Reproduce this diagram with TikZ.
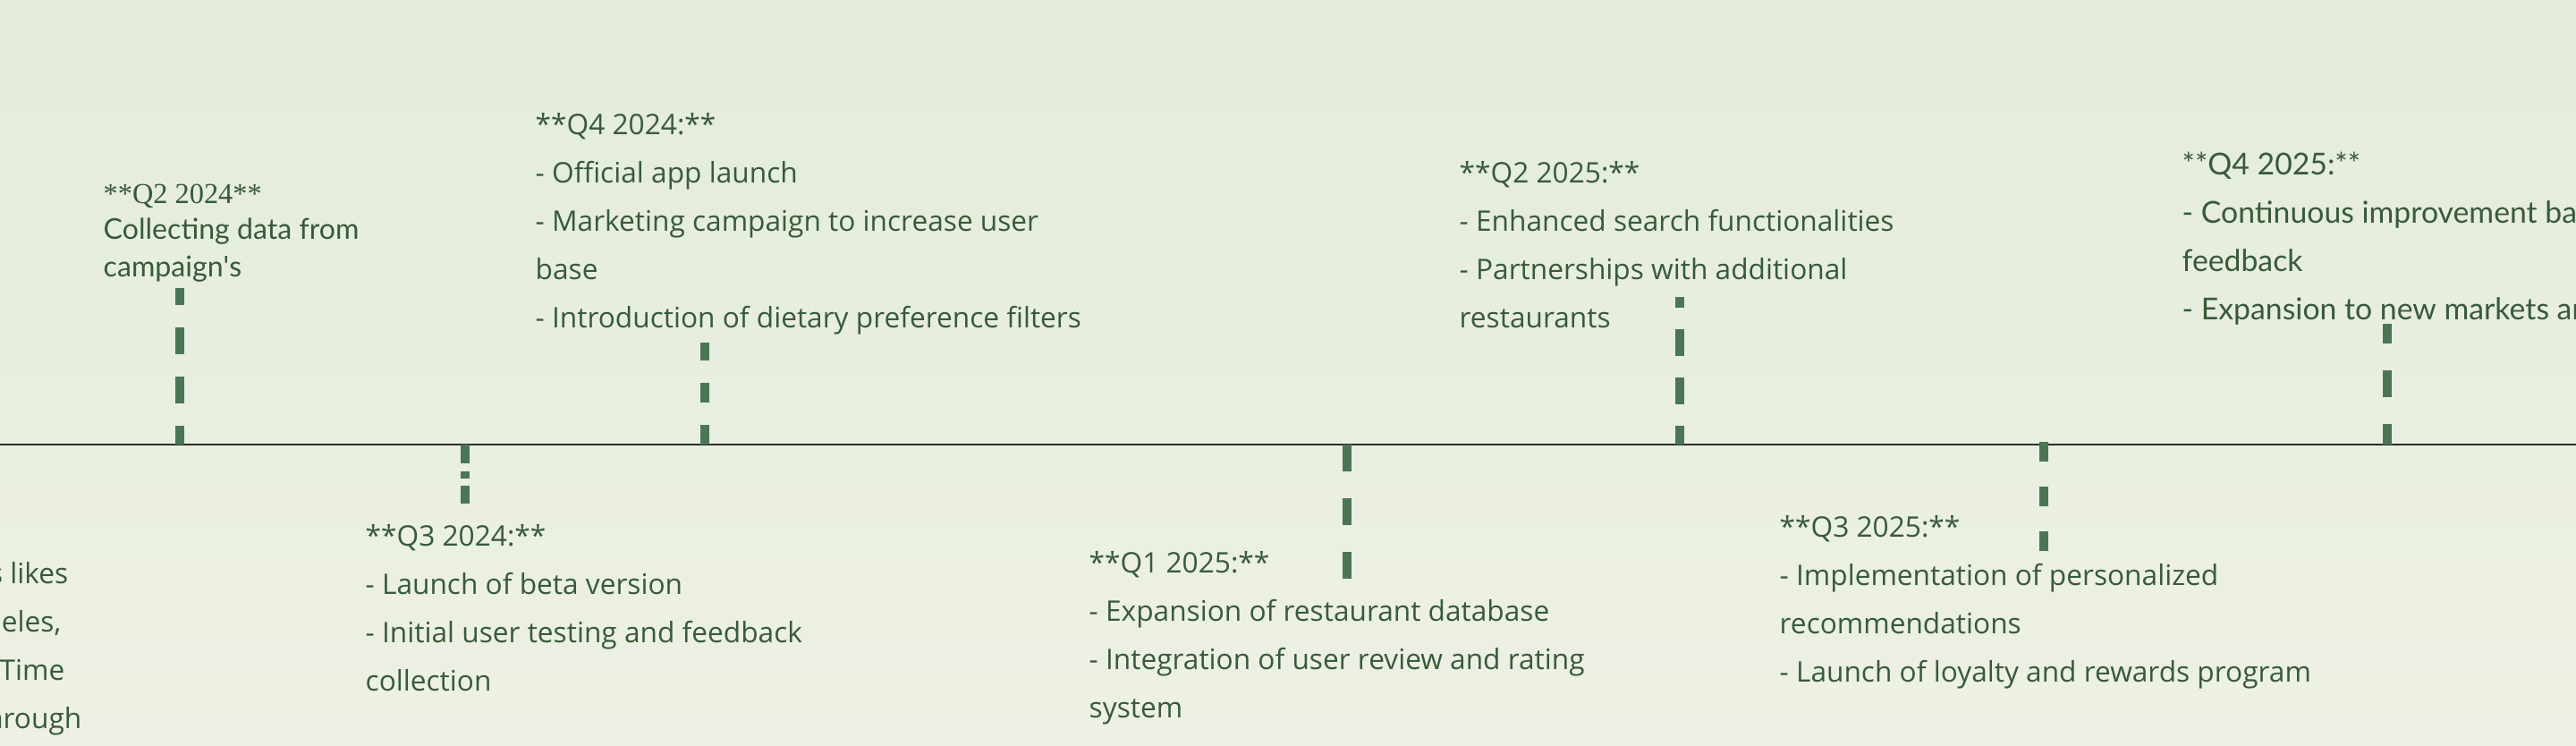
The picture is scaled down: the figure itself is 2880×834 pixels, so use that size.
\documentclass[tikz,border=0pt]{standalone}
\usepackage{fontspec}
\setmainfont{Open Sans}
\newfontfamily\roundfont{Lato}
\newfontfamily\headserif{Liberation Serif}
\usetikzlibrary{positioning}

\definecolor{bgtop}{RGB}{227,236,218}
\definecolor{bgbot}{RGB}{237,241,229}
\definecolor{inkgreen}{RGB}{56,90,58}
\definecolor{tickgreen}{RGB}{74,118,86}
\definecolor{axisdark}{RGB}{42,46,42}

\begin{document}
\begin{tikzpicture}[
    x=0.01cm, y=-0.01cm,
    note/.style={anchor=base west, align=left, inner sep=0pt, text=inkgreen,
                 font=\fontsize{9pt}{15.36pt}\selectfont},
    roundnote/.style={note, font=\roundfont\fontsize{9.6pt}{15.36pt}\selectfont},
    milestick/.style={draw=tickgreen, line width=0.1cm},
    axisline/.style={draw=axisdark, line width=0.025cm}
  ]
  \path[use as bounding box, clip] (0,0) rectangle (2880,834);
  \shade[top color=bgtop, bottom color=bgbot] (0,0) rectangle (2880,834);

  \coordinate (west) at (0,497);
  \coordinate (east) at (2880,497);
  \draw[axisline] (west) -- (east);

  \coordinate (a1) at (201,497);  \coordinate (e1) at (201,322);
  \coordinate (a2) at (520,497);  \coordinate (e2) at (520,563);
  \coordinate (a3) at (788,497);  \coordinate (e3) at (788,383);
  \coordinate (a4) at (1506,497); \coordinate (e4) at (1506,648);
  \coordinate (a5) at (1878,497); \coordinate (e5) at (1878,332);
  \coordinate (a6) at (2285,494); \coordinate (e6) at (2285,617);
  \coordinate (a7) at (2669,497); \coordinate (e7) at (2669,362);

  \draw[milestick, dash pattern=on 0.3cm off 0.25cm, dash phase=0.09cm] (a1) -- (e1);
  \draw[milestick, dash pattern=on 0.21cm off 0.09cm on 0.08cm off 0.08cm] (a2) -- (e2);
  \draw[milestick, dash pattern=on 0.22cm off 0.25cm] (a3) -- (e3);
  \draw[milestick, dash pattern=on 0.3cm off 0.3cm] (a4) -- (e4);
  \draw[milestick, dash pattern=on 0.3cm off 0.24cm, dash phase=0.09cm] (a5) -- (e5);
  \draw[milestick, dash pattern=on 0.22cm off 0.28cm] (a6) -- (e6);
  \draw[milestick, dash pattern=on 0.3cm off 0.3cm, dash phase=0.07cm] (a7) -- (e7);

  \node[note, anchor=base east, align=right] (earlier) at (92,815)
    {s likes\kern0.15cm\\eles,\kern0.23cm\\Time\kern0.19cm\\hrough};

  \node[note, font=\headserif\fontsize{9.2pt}{11.67pt}\selectfont] (q2y24head) at (115,228)
    {**Q2 2024**};
  \node[note, font=\roundfont\fontsize{9.13pt}{11.95pt}\selectfont] (q2y24) at (115,310)
    {Collecting data from\\campaign\textquotesingle s};

  \node[note] (q3y24) at (408,773)
    {**Q3 2024:**\\- Launch of beta version\\- Initial user testing and feedback\\collection};

  \node[note] (q4y24) at (598,367)
    {**Q4 2024:**\\- Official app launch\\- Marketing campaign to increase user\\base\\- Introduction of dietary preference filters};

  \node[note] (q1y25) at (1217,803)
    {**Q1 2025:**\\- Expansion of restaurant database\\- Integration of user review and rating\\system};

  \node[note] (q2y25) at (1631,367)
    {**Q2 2025:**\\- Enhanced search functionalities\\- Partnerships with additional\\restaurants};

  \node[note] (q3y25) at (1989,763)
    {**Q3 2025:**\\- Implementation of personalized\\recommendations\\- Launch of loyalty and rewards program};

  \node[roundnote] (q4y25) at (2439,358)
    {**Q4 2025:**\\- Continuous improvement ba\\feedback\\- Expansion to new markets an};
\end{tikzpicture}
\end{document}
